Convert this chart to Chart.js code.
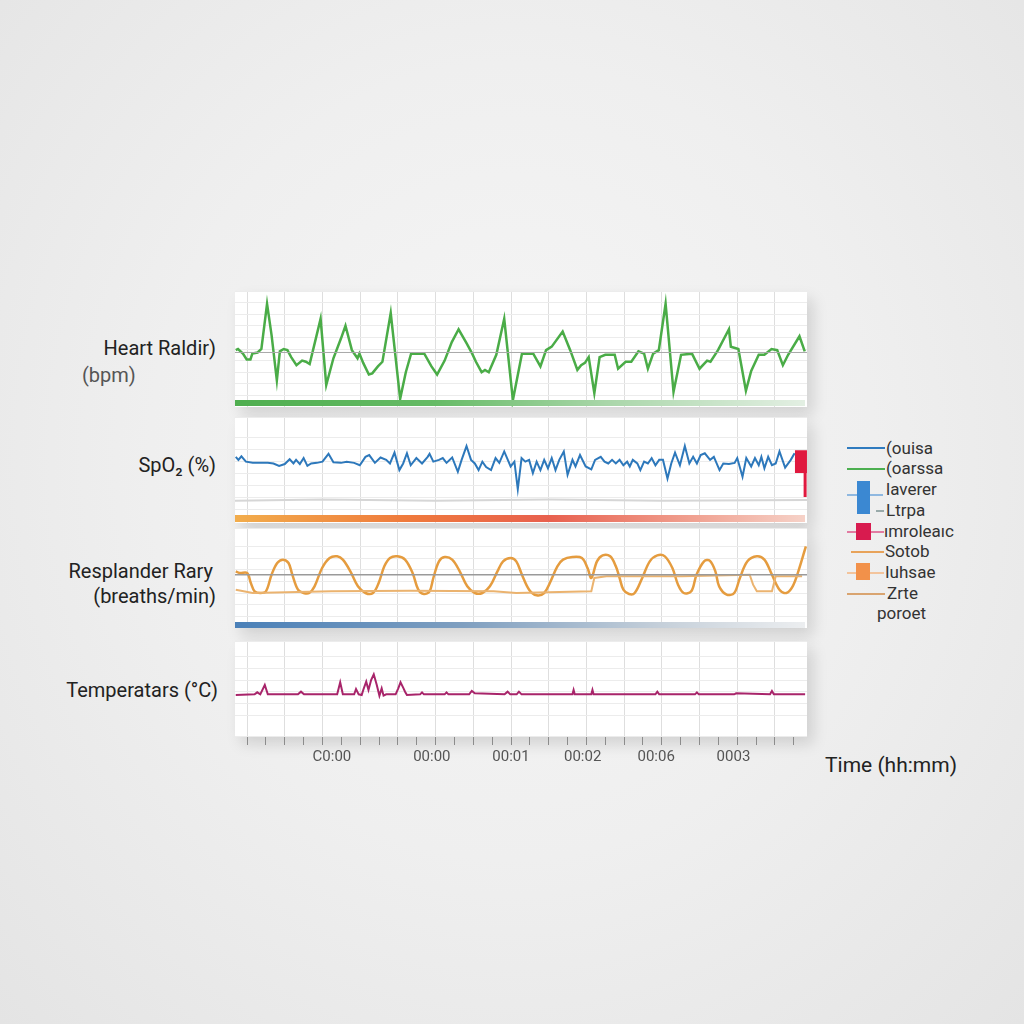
<!DOCTYPE html>
<html><head><meta charset="utf-8">
<script src="https://cdn.jsdelivr.net/npm/chart.js@4.4.0/dist/chart.umd.min.js"></script>
<style>
html,body{margin:0;padding:0;}
body{width:1024px;height:1024px;position:relative;overflow:hidden;
 background:radial-gradient(ellipse at 50% 45%, #f6f6f6 0%, #efefef 50%, #e4e4e4 100%);
 font-family:Roboto,'Open Sans',sans-serif;}
.card{position:absolute;left:235px;width:572px;background:#fff;box-shadow:6px 8px 14px rgba(0,0,0,0.13);}
.bar{position:absolute;left:235px;width:570px;z-index:2;}
canvas{position:absolute;left:235px;z-index:1;}
.lbl{position:absolute;font-size:20px;line-height:24px;color:#222;white-space:nowrap;}
.rt{right:808px;text-align:right;}
.lt{position:absolute;font-size:17px;line-height:20px;color:#333;white-space:nowrap;}
.ll{position:absolute;height:1.5px;}
.lb{position:absolute;}
</style></head>
<body>
<div class="card" style="top:291px;height:116px"></div>
<div class="card" style="top:417px;height:106px"></div>
<div class="card" style="top:528px;height:100px"></div>
<div class="card" style="top:641px;height:95px"></div>
<div class="bar" style="top:400px;height:6px;background:linear-gradient(90deg,#4fae4f 0%,#66bb66 35%,#a9d6a9 65%,#e3efe3 100%)"></div>
<div class="bar" style="top:515px;height:7px;background:linear-gradient(90deg,#f2ad4c 0%,#ef7a3c 30%,#e8604e 55%,#f0a090 80%,#f6d2c8 100%)"></div>
<div class="bar" style="top:622px;height:6px;background:linear-gradient(90deg,#4a80b8 0%,#7f9fc0 40%,#c6d0da 75%,#eceef0 100%)"></div>
<canvas id="c1" width="572" height="116" style="top:291px"></canvas>
<canvas id="c2" width="572" height="106" style="top:417px"></canvas>
<canvas id="c3" width="572" height="100" style="top:528px"></canvas>
<canvas id="c4" width="572" height="129" style="top:641px"></canvas>

<div class="lbl rt" style="top:336px">Heart Raldir)</div>
<div class="lbl" style="left:82px;top:363px;color:#555">(bpm)</div>
<div class="lbl rt" style="top:453px">SpO₂ (%)</div>
<div class="lbl rt" style="top:559px;right:811px">Resplander Rary</div>
<div class="lbl rt" style="top:584px">(breaths/min)</div>
<div class="lbl rt" style="top:678px;right:806px">Temperatars (°C)</div>
<div class="lbl" style="left:825px;top:753px;font-size:21px">Time (hh:mm)</div>

<div class="ll" style="left:847px;top:447px;width:38px;background:#2f7bbf"></div>
<div class="lt" style="left:886px;top:438px">(ouisa</div>
<div class="ll" style="left:847px;top:468px;width:38px;background:#4caf50"></div>
<div class="lt" style="left:886px;top:458px">(oarssa</div>
<div class="ll" style="left:847px;top:494px;width:36px;background:#8fb8e0"></div>
<div class="lb" style="left:857px;top:481px;width:13px;height:33px;background:#3b88d2"></div>
<div class="lt" style="left:886px;top:479px">laverer</div>
<div class="ll" style="left:876px;top:510px;width:8px;background:#9aa"></div>
<div class="lt" style="left:886px;top:500px">Ltrpa</div>
<div class="ll" style="left:847px;top:531px;width:37px;background:#e27ba2"></div>
<div class="lb" style="left:856px;top:523px;width:15px;height:17px;background:#d81b4f"></div>
<div class="lt" style="left:884px;top:521px">ımroleaıc</div>
<div class="ll" style="left:851px;top:551px;width:33px;background:#e8a35a"></div>
<div class="lt" style="left:885px;top:541px">Sotob</div>
<div class="ll" style="left:847px;top:572px;width:37px;background:#f3c49c"></div>
<div class="lb" style="left:856px;top:563px;width:14px;height:17px;background:#f2914a"></div>
<div class="lt" style="left:885px;top:562px">Iuhsae</div>
<div class="ll" style="left:847px;top:593px;width:38px;background:#d9a470"></div>
<div class="lt" style="left:887px;top:583px">Zrte</div>
<div class="lt" style="left:877px;top:603px">poroet</div>

<script>
// ---- data ----
const hrTime = [-0.30,-0.24,-0.11,-0.01,0.09,0.14,0.28,0.38,0.53,0.65,0.79,0.87,0.97,1.07,1.17,1.31,1.46,1.56,1.66,1.95,2.10,2.29,2.49,2.61,2.78,2.93,2.98,3.08,3.23,3.32,3.47,3.59,3.81,4.06,4.21,4.35,4.70,4.89,5.04,5.24,5.43,5.61,5.82,5.97,6.07,6.22,6.31,6.41,6.61,6.82,7.05,7.29,7.59,7.78,7.93,8.08,8.37,8.57,8.76,8.86,8.96,9.06,9.21,9.35,9.50,9.75,9.84,10.04,10.19,10.38,10.53,10.63,10.77,10.92,11.10,11.31,11.51,11.80,12.00,12.20,12.29,12.49,12.78,12.83,13.03,13.23,13.37,13.57,13.72,13.91,14.06,14.21,14.35,14.65,14.79];
const hrValues = [77,78,74,69,69,74,75,78,117,90,51,76,78,77,71,64,68,67,65,104,47,70,87,98,77,70,74,66,56,57,63,67,109,35,58,74,74,63,56,68,84,95,83,74,67,58,60,58,73,104,34,74,74,63,77,80,93,77,60,64,66,71,40,71,73,73,61,67,67,76,74,61,74,77,117,41,73,74,61,68,67,77,95,80,78,42,59,73,73,78,77,64,73,89,76];
const hrBaseTime = [-0.32,14.85];
const hrBaseValues = [75,75];

const spo2Time = [-0.30,-0.23,-0.15,-0.03,0.15,0.35,0.55,0.70,0.85,1.00,1.13,1.23,1.30,1.40,1.50,1.60,1.70,1.85,2.00,2.16,2.29,2.49,2.64,2.84,2.99,3.14,3.24,3.39,3.54,3.69,3.79,3.91,4.04,4.14,4.24,4.34,4.49,4.64,4.79,4.84,4.94,5.09,5.19,5.29,5.44,5.59,5.69,5.82,5.94,6.04,6.14,6.24,6.34,6.47,6.59,6.69,6.82,6.99,7.09,7.18,7.28,7.38,7.48,7.58,7.68,7.78,7.88,7.98,8.08,8.18,8.28,8.40,8.50,8.63,8.71,8.83,8.98,9.13,9.23,9.38,9.48,9.58,9.68,9.78,9.88,9.98,10.08,10.15,10.23,10.35,10.43,10.53,10.63,10.73,10.83,10.93,11.03,11.15,11.25,11.35,11.48,11.61,11.73,11.83,11.93,12.03,12.14,12.28,12.38,12.53,12.63,12.78,12.93,13.00,13.14,13.24,13.37,13.47,13.57,13.64,13.72,13.82,13.92,14.02,14.12,14.27,14.42,14.52];
const spo2Values = [96.8,96.3,96.9,96.0,95.8,95.8,95.8,95.7,95.3,95.6,96.4,95.7,96.3,95.6,96.6,95.3,95.7,95.8,96.0,97.3,95.9,95.8,96.0,95.8,95.4,96.8,97.1,95.8,96.7,96.3,95.7,97.5,94.6,95.7,97.4,95.4,96.6,95.7,96.8,97.3,96.0,96.3,96.6,95.8,96.7,94.3,96.3,98.6,96.3,95.7,94.6,96.0,95.1,94.6,96.6,95.8,97.7,95.2,96.0,91.4,96.6,96.0,96.3,94.1,96.0,94.6,96.3,94.9,96.6,94.6,96.3,97.7,93.8,96.3,95.2,97.1,95.2,94.7,96.3,96.8,96.0,95.7,96.3,95.7,96.3,95.4,96.0,95.2,96.3,95.7,94.6,96.0,95.7,96.6,95.4,96.3,96.3,93.2,95.7,97.5,95.4,98.6,95.7,96.8,95.7,97.1,97.4,96.3,96.8,94.6,95.7,95.6,95.8,96.6,93.5,96.6,95.2,96.6,95.4,96.8,94.9,96.8,95.4,95.7,97.7,95.0,96.3,97.4];
const spo2RefTime = [-0.32,2.0,5.0,8.0,11.0,14.85];
const spo2RefValues = [89.5,89.7,89.5,89.7,89.5,89.6];
const alarmTime = [14.69,14.69];
const alarmValues = [97.9,94.1];
const alarmTailTime = [14.80,14.80];
const alarmTailValues = [94.1,90.1];

const respTime = [-0.30,-0.20,0.00,0.10,0.20,0.35,0.50,0.65,0.80,0.95,1.10,1.20,1.35,1.50,1.65,1.79,1.99,2.19,2.39,2.54,2.74,2.94,3.14,3.34,3.49,3.64,3.79,3.99,4.19,4.39,4.54,4.69,4.84,4.94,5.09,5.24,5.44,5.64,5.84,6.04,6.24,6.44,6.64,6.79,6.99,7.14,7.29,7.48,7.68,7.88,8.03,8.23,8.38,8.63,8.88,9.03,9.13,9.28,9.43,9.63,9.78,9.88,9.98,10.13,10.28,10.48,10.68,10.88,11.08,11.28,11.43,11.58,11.78,11.92,12.12,12.27,12.42,12.52,12.72,12.92,13.07,13.27,13.52,13.72,13.92,14.12,14.30,14.47,14.62,14.82];
const respValues = [17.0,16.5,16.5,13.5,11.0,10.5,11.0,16.0,19.5,20.5,19.5,16.0,11.5,10.5,10.5,12.5,18.0,21.0,21.5,20.5,17.0,12.5,10.5,10.5,13.5,18.5,21.0,21.5,20.5,16.5,11.5,10.2,11.0,15.0,20.0,21.3,20.5,17.0,12.5,10.5,10.5,12.5,17.0,20.0,21.0,20.0,16.0,11.5,9.8,10.5,13.5,18.5,20.5,21.3,21.0,18.0,15.0,20.0,21.8,21.5,18.5,15.0,11.5,10.2,10.5,15.0,20.0,21.8,21.5,18.0,13.0,10.5,11.0,16.0,20.0,20.2,17.0,12.5,10.0,10.5,15.0,20.0,21.5,20.5,16.0,11.5,10.5,12.5,17.0,24.5];
const resp2Time = [-0.30,0.15,2.24,4.34,6.54,7.14,9.13,9.21,9.53,11.53,13.33,13.42,13.52,13.92,14.02,14.72];
const resp2Values = [11.5,10.5,11.0,11.2,11.0,10.5,11.0,15.0,15.5,15.5,16.0,13.0,11.0,11.0,15.5,15.5];
const respBaseTime = [-0.32,14.85];
const respBaseValues = [16,16];

const tempTime = [-0.30,0.20,0.27,0.35,0.47,0.55,1.35,1.43,1.51,2.39,2.47,2.54,2.84,2.89,2.96,3.04,3.09,3.16,3.22,3.29,3.36,3.44,3.51,3.57,3.62,3.69,3.94,4.01,4.07,4.14,4.19,4.24,4.59,4.64,4.69,5.24,5.29,5.34,5.89,5.96,6.04,6.83,6.91,6.98,7.15,7.21,7.28,8.63,8.66,8.69,9.13,9.16,9.19,10.83,10.88,10.93,11.88,11.93,11.98,12.92,12.97,13.87,13.92,13.97,14.80];
const tempValues = [37.00,37.02,37.08,37.02,37.30,37.02,37.02,37.10,37.02,37.02,37.38,37.02,37.02,37.18,37.02,37.00,37.18,37.40,37.15,37.45,37.62,37.30,36.98,37.20,36.98,37.02,37.02,37.20,37.38,37.22,37.10,37.00,37.02,37.08,37.02,37.02,37.08,37.02,37.02,37.12,37.05,37.02,37.10,37.02,37.02,37.10,37.02,37.02,37.15,37.02,37.02,37.15,37.02,37.02,37.10,37.02,37.02,37.08,37.02,37.02,37.05,37.02,37.12,37.02,37.02];

const timeTickPos = [2.25,4.9,7,8.9,10.85,12.9];
const timeTickLabels = ["C0:00","00:00","00:01","00:02","00:06","0003"];

// ---- helpers ----
const X_MIN = -0.32, X_MAX = 14.85;
const pts = (t, v) => t.map((x, i) => ({x: x, y: v[i]}));
function line(t, v, color, width, extra) {
  return Object.assign({data: pts(t, v), borderColor: color, borderWidth: width, pointRadius: 0, tension: 0, fill: false}, extra || {});
}
const gridTicks = [];
for (let k = 0; k <= 14; k++) gridTicks.push(k);
const minorTicks = [];
for (let k = 0; k <= 29; k++) minorTicks.push(k / 2);

function makeChart(id, datasets, yMin, yMax, yStep, bottom) {
  const tickVals = bottom ? Array.from(new Set(minorTicks.concat(timeTickPos))).sort((a, b) => a - b) : gridTicks;
  return new Chart(document.getElementById(id), {
    type: 'line',
    data: {datasets: datasets},
    options: {
      responsive: false, animation: false, devicePixelRatio: 1,
      layout: {padding: 0},
      plugins: {legend: {display: false}, tooltip: {enabled: false}},
      scales: {
        x: {
          type: 'linear', min: X_MIN, max: X_MAX,
          afterBuildTicks: s => { s.ticks = tickVals.map(v => ({value: v})); },
          afterFit: s => { s.height = bottom ? 34 : 0; },
          border: {display: false},
          grid: {
            color: c => (c.tick && Number.isInteger(c.tick.value)) ? '#dedede' : 'rgba(0,0,0,0)',
            drawTicks: bottom, tickLength: 9,
            tickColor: c => (c.tick && Math.abs(c.tick.value * 2 - Math.round(c.tick.value * 2)) < 1e-6) ? '#8c8c8c' : 'rgba(0,0,0,0)'
          },
          ticks: {
            display: bottom, autoSkip: false, maxRotation: 0, padding: 3,
            color: '#555', font: {family: 'Roboto', size: 15},
            callback: v => { const i = timeTickPos.indexOf(v); return i >= 0 ? timeTickLabels[i] : ''; }
          }
        },
        y: {
          type: 'linear', min: yMin, max: yMax,
          afterFit: s => { s.width = 0; },
          border: {display: false},
          grid: {color: '#ececec', drawTicks: false},
          ticks: {display: false, stepSize: yStep}
        }
      }
    }
  });
}

makeChart('c1', [
  line(hrBaseTime, hrBaseValues, '#a8a8a8', 1),
  line(hrTime, hrValues, '#4aac47', 2.5)
], 28, 128, 10, false);

makeChart('c2', [
  line(spo2RefTime, spo2RefValues, '#d6d6d6', 2),
  line(spo2Time, spo2Values, '#2d78bb', 2),
  line(alarmTime, alarmValues, '#e0193f', 12, {borderCapStyle: 'butt'}),
  line(alarmTailTime, alarmTailValues, '#e0193f', 3)
], 85.78, 103.44, 2, false);

makeChart('c3', [
  line(respBaseTime, respBaseValues, '#9a9a9a', 1.5),
  line(resp2Time, resp2Values, '#ebb36f', 2),
  line(respTime, respValues, '#e59c3f', 2.5, {tension: 0.35})
], 0, 30, 3.5, false);

makeChart('c4', [
  line(tempTime, tempValues, '#a8246a', 2)
], 35.77, 38.62, 0.35, true);
</script>
</body></html>
